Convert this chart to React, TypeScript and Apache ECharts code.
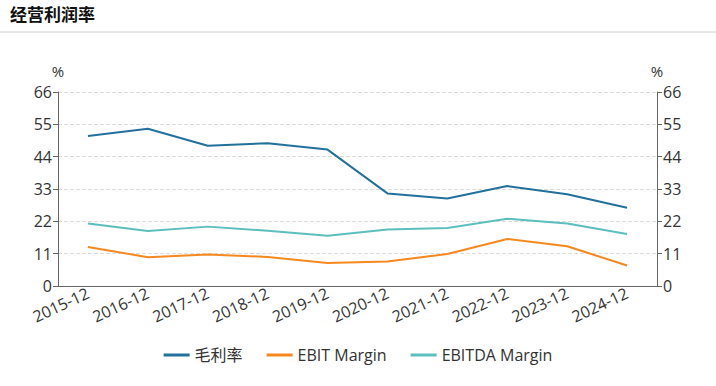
import React, { useEffect, useRef } from "react";
import * as echarts from "echarts";

const categories = ["2015-12", "2016-12", "2017-12", "2018-12", "2019-12", "2020-12", "2021-12", "2022-12", "2023-12", "2024-12"];
const grossMargin = [51.0, 53.5, 47.7, 48.6, 46.4, 31.5, 29.8, 34.0, 31.2, 26.6];
const ebitMargin = [13.3, 9.8, 10.7, 9.9, 7.8, 8.3, 10.9, 16.0, 13.5, 7.0];
const ebitdaMargin = [21.3, 18.7, 20.2, 18.8, 17.1, 19.2, 19.7, 22.9, 21.3, 17.7];
const seriesNames = ["毛利率", "EBIT Margin", "EBITDA Margin"];
const colors = ["#22709c", "#f5891f", "#5cbfbd"];
const title = "经营利润率";

const FONT = "'Open Sans', 'Noto Sans CJK SC', sans-serif";

export default function App() {
  const ref = useRef<HTMLDivElement>(null);
  useEffect(() => {
    if (!ref.current) return;
    const chart = echarts.init(ref.current, undefined, { renderer: "svg" });
    const yAxisBase = (pos: "left" | "right") => ({
      type: "value" as const,
      position: pos,
      min: 0,
      max: 66,
      interval: 11,
      name: "%",
      nameLocation: "end" as const,
      nameGap: 14,
      nameTextStyle: { color: "#333", fontSize: 15, fontFamily: FONT },
      axisLine: { show: true, lineStyle: { color: "#666" } },
      axisTick: { show: true, length: 5, lineStyle: { color: "#666" } },
      axisLabel: { color: "#333", fontSize: 16, fontFamily: FONT, margin: 6 },
      splitLine: pos === "left" ? { show: true, lineStyle: { color: "#ddd", type: "dashed" } } : { show: false },
    });
    chart.setOption({
      animation: false,
      color: colors,
      graphic: [
        {
          type: "text",
          left: 10,
          top: 6,
          style: { text: title, fontSize: 17, fontWeight: "bold", fill: "#111", fontFamily: FONT },
        },
        {
          type: "line",
          shape: { x1: 0, y1: 32, x2: 716, y2: 32 },
          style: { stroke: "#ccc", lineWidth: 1 },
        },
      ],
      legend: {
        bottom: 18,
        left: "center",
        itemWidth: 26,
        itemHeight: 3,
        itemGap: 24,
        icon: "rect",
        textStyle: { color: "#333", fontSize: 16, fontFamily: FONT },
        data: seriesNames,
      },
      grid: { left: 58, right: 59, top: 92, bottom: 100 },
      xAxis: {
        type: "category",
        data: categories,
        boundaryGap: true,
        axisLine: { lineStyle: { color: "#666" } },
        axisTick: { alignWithLabel: true, length: 5, inside: false, lineStyle: { color: "#666" } },
        axisLabel: { rotate: 25, color: "#333", fontSize: 16, fontFamily: FONT, interval: 0, margin: 6 },
      },
      yAxis: [yAxisBase("left"), yAxisBase("right")],
      series: [
        { name: seriesNames[0], type: "line", data: grossMargin, symbol: "none", lineStyle: { width: 2 }, yAxisIndex: 0 },
        { name: seriesNames[1], type: "line", data: ebitMargin, symbol: "none", lineStyle: { width: 2 }, yAxisIndex: 0 },
        { name: seriesNames[2], type: "line", data: ebitdaMargin, symbol: "none", lineStyle: { width: 2 }, yAxisIndex: 0 },
      ],
    });
    return () => chart.dispose();
  }, []);
  return (
    <div
      ref={ref}
      style={{ position: "fixed", left: 0, top: 0, width: 716, height: 386, background: "#fff" }}
    />
  );
}
